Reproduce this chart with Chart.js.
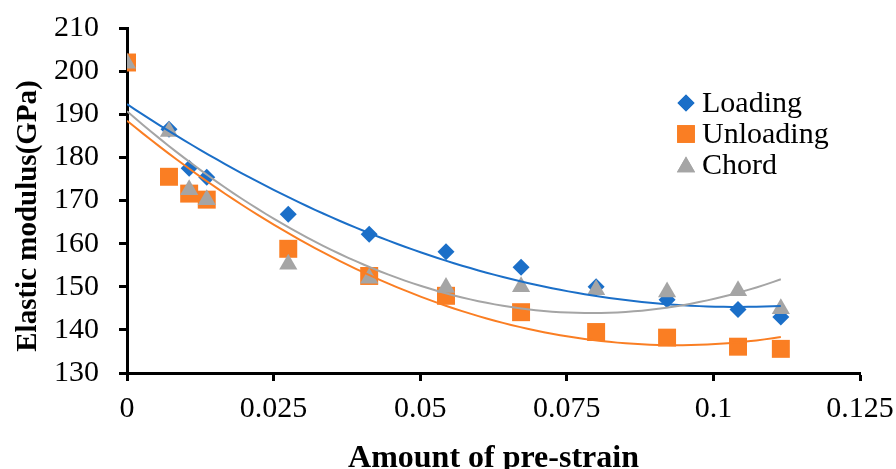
<!DOCTYPE html>
<html>
<head>
<meta charset="utf-8">
<script src="https://cdn.jsdelivr.net/npm/chart.js@4.4.1/dist/chart.umd.min.js"></script>
<style>
  html, body { margin: 0; padding: 0; background: #ffffff; }
  #wrap { width: 896px; height: 469px; }
</style>
</head>
<body>
<div id="wrap"><canvas id="c" width="896" height="469"></canvas></div>
<script>
// ---- data ----
const seriesNames = ['Loading', 'Unloading', 'Chord'];
const preStrain = [0, 0.00716, 0.0106, 0.0136, 0.0275, 0.0413, 0.0544, 0.0672, 0.080, 0.0921, 0.1042, 0.1115];
const loading   = [202.0, 186.5, 177.5, 175.4, 166.8, 162.2, 158.1, 154.5, 150.0, 147.0, 144.7, 143.0];
const unloading = [202.0, 175.5, 171.6, 170.2, 158.8, 152.5, 147.9, 144.1, 139.5, 138.2, 136.1, 135.6];
const chord     = [201.8, 186.0, 172.5, 170.2, 155.2, 152.0, 149.8, 150.0, 149.3, 148.8, 149.1, 144.9];
const yTicks = [130, 140, 150, 160, 170, 180, 190, 200, 210];
const xTicks = [0, 0.025, 0.05, 0.075, 0.1, 0.125];

const colors = { Loading: '#1B6FC8', Unloading: '#FA7E23', Chord: '#A5A5A5' };
const FONT = "'Liberation Serif', 'Times New Roman', serif";

// polynomial (order 2) least-squares trendline, as in the spreadsheet
function quadFit(xs, ys) {
  let n = xs.length, s = [0,0,0,0,0], t = [0,0,0];
  for (let i = 0; i < n; i++) {
    const x = xs[i], y = ys[i];
    let p = 1;
    for (let k = 0; k < 5; k++) { s[k] += p; if (k < 3) t[k] += y * p; p *= x; }
  }
  const A = [[s[0], s[1], s[2], t[0]], [s[1], s[2], s[3], t[1]], [s[2], s[3], s[4], t[2]]];
  for (let i = 0; i < 3; i++) {
    for (let j = i + 1; j < 3; j++) {
      const f = A[j][i] / A[i][i];
      for (let k = i; k < 4; k++) A[j][k] -= f * A[i][k];
    }
  }
  const c = [0,0,0];
  for (let i = 2; i >= 0; i--) {
    let v = A[i][3];
    for (let k = i + 1; k < 3; k++) v -= A[i][k] * c[k];
    c[i] = v / A[i][i];
  }
  return c;
}
function trend(xs, ys) {
  const c = quadFit(xs, ys);
  const x0 = xs[0], x1 = xs[xs.length - 1], pts = [];
  const N = 80;
  for (let i = 0; i <= N; i++) {
    const x = x0 + (x1 - x0) * i / N;
    pts.push({ x: x, y: c[0] + c[1] * x + c[2] * x * x });
  }
  return pts;
}
const pts = arr => preStrain.map((x, i) => ({ x: x, y: arr[i] }));

const styles = {
  Loading:   { pointStyle: 'rectRot',  radius: 8.5 },
  Unloading: { pointStyle: 'rect',     radius: 12.7 },
  Chord:     { pointStyle: 'triangle', radius: 10.5 }
};
const values = { Loading: loading, Unloading: unloading, Chord: chord };

const datasets = [];
seriesNames.forEach((name, i) => {
  datasets.push({
    label: name,
    data: pts(values[name]),
    pointStyle: styles[name].pointStyle,
    pointRadius: styles[name].radius,
    pointHoverRadius: styles[name].radius,
    backgroundColor: colors[name],
    borderColor: colors[name],
    pointBorderWidth: 0,
    showLine: false,
    order: 10 - i
  });
});
seriesNames.forEach((name, i) => {
  datasets.push({
    label: name + ' trend',
    data: trend(preStrain, values[name]),
    showLine: true,
    pointRadius: 0,
    borderColor: colors[name],
    borderWidth: 2,
    fill: false,
    tension: 0,
    order: 3 - i
  });
});

// custom legend + rotated y title
const extras = {
  id: 'extras',
  afterDraw(chart) {
    const ctx = chart.ctx;
    ctx.save();
    const lx = 686, tx = 702;
    const rows = [
      { name: 'Loading', cy: 103, base: 112, style: 'rectRot', r: 8.5 },
      { name: 'Unloading', cy: 134, base: 143, style: 'rect', r: 12.5 },
      { name: 'Chord', cy: 167, base: 174, style: 'triangle', r: 10.5 }
    ];
    rows.forEach(r => {
      ctx.fillStyle = colors[r.name];
      ctx.strokeStyle = colors[r.name];
      Chart.helpers.drawPoint(ctx, { pointStyle: r.style, radius: r.r, borderWidth: 0 }, lx, r.cy);
      ctx.fill();
      ctx.fillStyle = '#000';
      ctx.font = "30px " + FONT;
      ctx.textAlign = 'left';
      ctx.textBaseline = 'alphabetic';
      ctx.fillText(r.name, tx, r.base);
    });
    ctx.translate(36, 216);
    ctx.rotate(-Math.PI / 2);
    ctx.font = "bold 29px " + FONT;
    ctx.textAlign = 'center';
    ctx.textBaseline = 'alphabetic';
    ctx.fillStyle = '#000';
    ctx.fillText('Elastic modulus(GPa)', 0, 0);
    ctx.restore();
  }
};

function noPad(s) { s.paddingTop = 0; s.paddingBottom = 0; s.paddingLeft = 0; s.paddingRight = 0; }

new Chart(document.getElementById('c'), {
  type: 'scatter',
  data: { datasets: datasets },
  plugins: [extras],
  options: {
    responsive: false,
    animation: false,
    devicePixelRatio: 1,
    layout: { padding: { top: 28, right: 36, left: 0, bottom: 0 } },
    plugins: { legend: { display: false }, tooltip: { enabled: false } },
    scales: {
      x: {
        type: 'linear',
        min: xTicks[0], max: xTicks[xTicks.length - 1],
        afterBuildTicks: s => { s.ticks = xTicks.map(v => ({ value: v })); },
        afterFit: s => { s.height = 96; noPad(s); },
        ticks: {
          color: '#000', padding: 10, maxRotation: 0, autoSkip: false,
          font: { family: FONT, size: 30 },
          callback: v => String(Number(v.toFixed(3)))
        },
        grid: { display: true, drawOnChartArea: false, drawTicks: true, tickLength: 8, tickWidth: 3, tickColor: '#000' },
        border: { display: true, color: '#000', width: 3 },
        title: {
          display: true, text: 'Amount of pre-strain', color: '#000',
          font: { family: FONT, size: 32, weight: 'bold', lineHeight: 0.6 },
          padding: { top: 0, bottom: 1 }
        }
      },
      y: {
        type: 'linear',
        min: yTicks[0], max: yTicks[yTicks.length - 1],
        afterBuildTicks: s => { s.ticks = yTicks.map(v => ({ value: v })); },
        afterFit: s => { s.width = 127; noPad(s); },
        ticks: {
          color: '#000', padding: 20, autoSkip: false,
          font: { family: FONT, size: 30 }
        },
        grid: { display: true, drawOnChartArea: false, drawTicks: true, tickLength: 8, tickWidth: 3, tickColor: '#000' },
        border: { display: true, color: '#000', width: 3 }
      }
    }
  }
});
</script>
</body>
</html>
